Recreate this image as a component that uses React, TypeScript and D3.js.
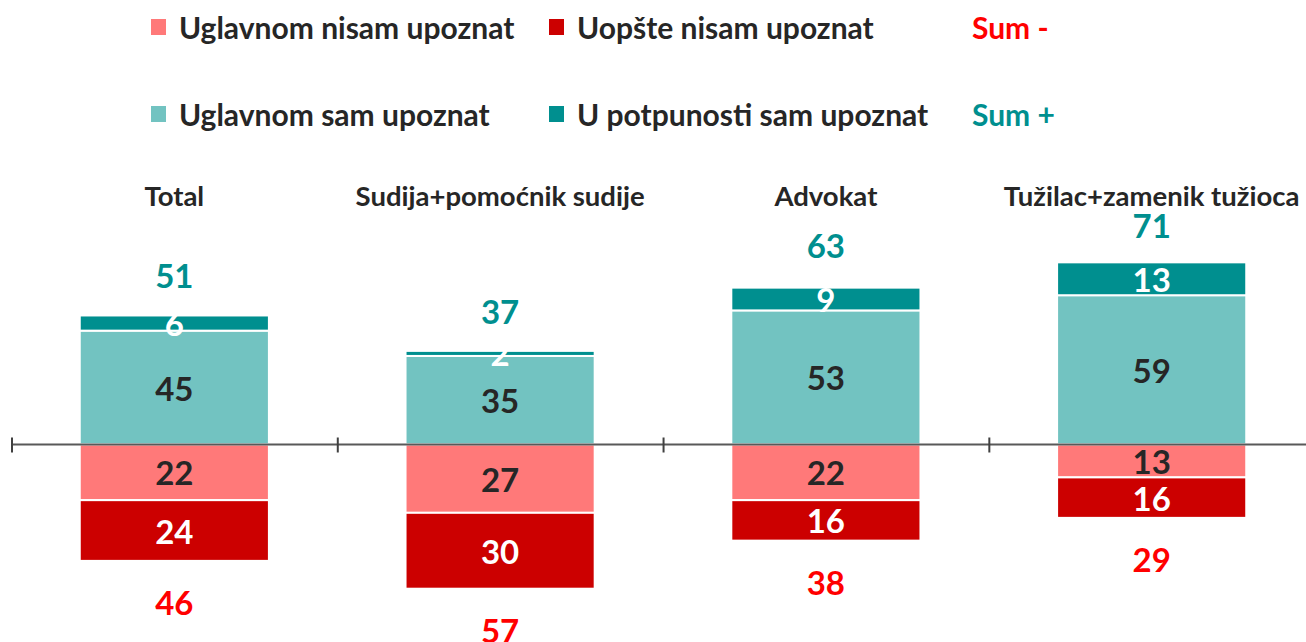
import React from "react";
import * as d3 from "d3";

const categories = ["Total", "Sudija+pomoćnik sudije", "Advokat", "Tužilac+zamenik tužioca"];
const mostlyAware = [45, 35, 53, 59];
const fullyAware = [6, 2, 9, 13];
const mostlyNot = [22, 27, 22, 13];
const notAtAll = [24, 30, 16, 16];
const sumPlus = [51, 37, 63, 71];
const sumMinus = [46, 57, 38, 29];

const legendRows = [
  [
    { label: "Uglavnom nisam upoznat", color: "#FF7979" },
    { label: "Uopšte nisam upoznat", color: "#CC0000" },
  ],
  [
    { label: "Uglavnom sam upoznat", color: "#72C3C1" },
    { label: "U potpunosti sam upoznat", color: "#008F8F" },
  ],
];
const sumLabels = [
  { label: "Sum -", color: "#FF0000" },
  { label: "Sum +", color: "#008F8F" },
];

const W = 1306;
const H = 642;
const FONT = "Lato, 'Open Sans', sans-serif";

export default function App() {
  const zero = 444.5;
  const k = 2.53;
  const y = d3.scaleLinear().domain([-80, 80]).range([zero + 80 * k, zero - 80 * k]);
  const x = d3
    .scaleBand<string>()
    .domain(categories)
    .range([12, 12 + 4 * 325.5])
    .paddingInner(0.4194)
    .paddingOuter(0.208);
  const step = x.step();

  const segs: { cat: string; y0: number; y1: number; v: number; fill: string; text: string }[] = [];
  categories.forEach((c, i) => {
    segs.push({ cat: c, y0: 0, y1: mostlyAware[i], v: mostlyAware[i], fill: "#72C3C1", text: "#262626" });
    segs.push({ cat: c, y0: mostlyAware[i], y1: mostlyAware[i] + fullyAware[i], v: fullyAware[i], fill: "#008F8F", text: "#FFFFFF" });
    segs.push({ cat: c, y0: 0, y1: -mostlyNot[i], v: mostlyNot[i], fill: "#FF7979", text: "#262626" });
    segs.push({ cat: c, y0: -mostlyNot[i], y1: -mostlyNot[i] - notAtAll[i], v: notAtAll[i], fill: "#CC0000", text: "#FFFFFF" });
  });

  const legendX = [151, 549];
  const legendY = [27, 114];

  return (
    <svg width={W} height={H} style={{ position: "absolute", left: 0, top: 0, background: "#fff" }} fontFamily={FONT}>
      {/* legend */}
      {legendRows.map((row, r) => (
        <g key={r}>
          {row.map((it, j) => (
            <g key={j}>
              <rect x={legendX[j]} y={legendY[r] - 8} width={15} height={16} fill={it.color} />
              <text x={legendX[j] + 28} y={legendY[r]} dominantBaseline="central" fontSize={30} fontWeight={700} fill="#262626">
                {it.label}
              </text>
            </g>
          ))}
          <text x={972} y={legendY[r]} dominantBaseline="central" fontSize={30} fontWeight={700} fill={sumLabels[r].color}>
            {sumLabels[r].label}
          </text>
        </g>
      ))}

      {/* category titles */}
      {categories.map((c) => (
        <text key={c} x={(x(c) as number) + x.bandwidth() / 2} y={195} textAnchor="middle" dominantBaseline="central" fontSize={27.5} fontWeight={700} fill="#262626">
          {c}
        </text>
      ))}

      {/* bars */}
      {segs.map((s, i) => (
        <rect
          key={i}
          x={x(s.cat)}
          width={x.bandwidth()}
          y={Math.min(y(s.y0), y(s.y1))}
          height={Math.abs(y(s.y0) - y(s.y1))}
          fill={s.fill}
          stroke="#fff"
          strokeWidth={2}
        />
      ))}

      {/* axis */}
      <line x1={12} x2={W} y1={zero} y2={zero} stroke="#595959" strokeWidth={2} />
      {[0, 1, 2, 3].map((i) => (
        <line key={i} x1={12 + i * step} x2={12 + i * step} y1={zero - 7} y2={zero + 8} stroke="#404040" strokeWidth={2} />
      ))}

      {/* segment labels */}
      {segs.map((s, i) => (
        <text
          key={"t" + i}
          x={(x(s.cat) as number) + x.bandwidth() / 2}
          y={(y(s.y0) + y(s.y1)) / 2}
          textAnchor="middle"
          dominantBaseline="central"
          fontSize={33}
          fontWeight={700}
          fill={s.text}
        >
          {s.v}
        </text>
      ))}

      {/* sums */}
      {categories.map((c, i) => (
        <g key={"s" + c}>
          <text x={(x(c) as number) + x.bandwidth() / 2} y={y(sumPlus[i]) - 40} textAnchor="middle" dominantBaseline="central" fontSize={33} fontWeight={700} fill="#008F8F">
            {sumPlus[i]}
          </text>
          <text x={(x(c) as number) + x.bandwidth() / 2} y={y(-sumMinus[i]) + 41} textAnchor="middle" dominantBaseline="central" fontSize={33} fontWeight={700} fill="#FF0000">
            {sumMinus[i]}
          </text>
        </g>
      ))}
    </svg>
  );
}
